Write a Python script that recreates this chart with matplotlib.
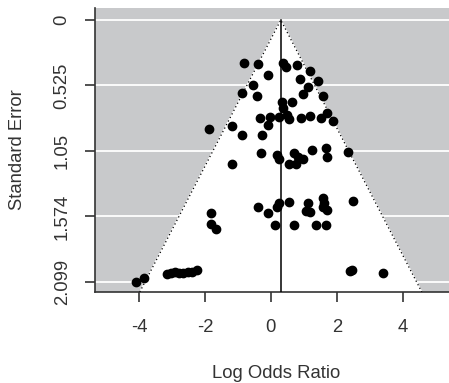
import matplotlib
matplotlib.use("Agg")
import matplotlib.pyplot as plt
import numpy as np

# log odds ratios and standard errors
log_or = [-0.82, -0.38, 0.37, 0.45, 0.78, 1.18, -0.08, 0.88, 1.43, -0.55,
          1.13, -0.89, -0.43, 0.98, 1.58, 0.35, 0.63, 0.37, 1.69, -0.33,
          -0.03, 0.25, 0.48, 0.55, 0.90, 1.18, 1.51, 1.87, -0.08, -1.87,
          -1.17, -0.89, -0.26,
          -0.31, 0.17, 0.25, 0.70, 0.83, 0.98, 0.55, 0.76, 1.26, 1.67,
          1.71, 2.34, -1.19,
          -0.38, -0.08, 0.17, 0.25, 0.55, 1.13, 1.18, 1.58, 1.58, 1.69,
          2.49, -1.80, -1.80, -1.65, 0.12, 0.70, 1.38, 1.67, 1.05, 1.62,
          -4.09, -3.85, -3.16, -3.02, -2.91, -2.78, -2.66, -2.52, -2.40, -2.23,
          2.39, 2.45, 3.40]
std_err = [0.347, 0.353, 0.342, 0.374, 0.361, 0.406, 0.441, 0.475, 0.486, 0.521,
           0.539, 0.583, 0.607, 0.593, 0.609, 0.655, 0.655, 0.708, 0.743, 0.788,
           0.780, 0.775, 0.761, 0.796, 0.788, 0.769, 0.788, 0.807, 0.841, 0.873,
           0.847, 0.921, 0.921,
           1.063, 1.082, 1.116, 1.063, 1.095, 1.116, 1.154, 1.154, 1.042, 1.028,
           1.095, 1.055, 1.156,
           1.501, 1.549, 1.496, 1.464, 1.456, 1.469, 1.536, 1.429, 1.496, 1.522,
           1.450, 1.549, 1.635, 1.677, 1.643, 1.643, 1.643, 1.643, 1.530, 1.470,
           2.097, 2.070, 2.035, 2.030, 2.017, 2.025, 2.030, 2.020, 2.017, 2.003,
           2.009, 2.005, 2.030]

estimate = 0.30
se_ticks = [0, 0.525, 1.05, 1.574, 2.099]
se_tick_labels = ["0", "0.525", "1.05", "1.574", "2.099"]
x_ticks = [-4, -2, 0, 2, 4]

plt.rcParams["font.family"] = ["Liberation Sans", "DejaVu Sans"]

fig = plt.figure(figsize=(4.49, 3.83), dpi=100)
W, H = 449, 383
ax = fig.add_axes([95 / W, 1 - 292 / H, 363 / W, 284 / H])
ax.set_facecolor("#c8c9cb")

y_bottom, y_top = 2.18, -0.096
ax.set_ylim(y_bottom, y_top)
ax.set_xlim(-5.33, 5.67)

for s in se_ticks:
    ax.axhline(s, color="white", lw=1.3, zorder=1)

# pseudo confidence region
lo = estimate - 1.96 * y_bottom
hi = estimate + 1.96 * y_bottom
ax.fill([lo, estimate, hi], [y_bottom, 0, y_bottom], color="white", zorder=2)
ax.plot([lo, estimate, hi], [y_bottom, 0, y_bottom], color="black",
        ls=(0, (1, 2.2)), lw=0.9, zorder=3)
ax.plot([estimate, estimate], [0, y_bottom], color="black", lw=1.1, zorder=3)

ax.plot(log_or, std_err, "o", color="black", ms=6, mec="black", zorder=4)

for side in ["top", "right"]:
    ax.spines[side].set_visible(False)
for side in ["left", "bottom"]:
    ax.spines[side].set_color("#333333")
    ax.spines[side].set_linewidth(1.2)

fs = 13.3
ax.set_yticks(se_ticks)
ax.set_yticklabels(se_tick_labels, rotation=90, va="center", fontsize=fs,
                   color="#333333")
ax.set_xticks(x_ticks)
ax.set_xticklabels([str(t) for t in x_ticks], fontsize=fs, color="#333333")
ax.tick_params(axis="both", length=7.5, width=1.2, color="#333333")
ax.tick_params(axis="x", pad=12)
ax.tick_params(axis="y", pad=10)

ax.set_xlabel("Log Odds Ratio", fontsize=fs, color="#333333")
ax.set_ylabel("Standard Error", fontsize=fs, color="#333333")
ax.xaxis.set_label_coords((276.5 - 95) / 363, (292 - 365) / 284)
ax.yaxis.set_label_coords((26 - 95) / 363, 0.5)

fig.savefig("out.png", dpi=100)
